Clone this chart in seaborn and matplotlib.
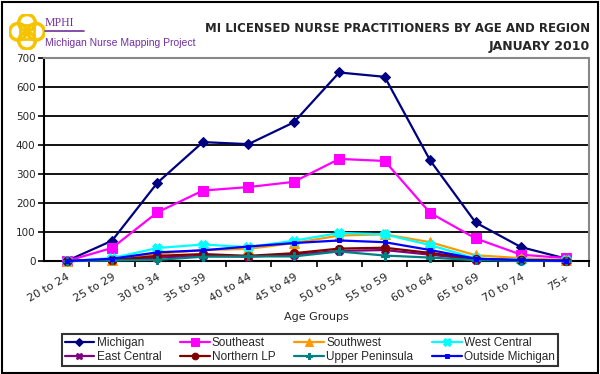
import numpy as np
import pandas as pd
import seaborn as sns
import matplotlib.pyplot as plt
from matplotlib.patches import Rectangle, Circle

age_groups = ['20 to 24', '25 to 29', '30 to 34', '35 to 39', '40 to 44', '45 to 49',
              '50 to 54', '55 to 59', '60 to 64', '65 to 69', '70 to 74', '75+']

michigan = [0, 70, 270, 410, 403, 478, 650, 635, 347, 133, 48, 8]
southeast = [0, 45, 168, 243, 255, 273, 352, 345, 166, 78, 22, 10]
southwest = [0, 5, 25, 38, 42, 62, 88, 92, 65, 20, 10, 3]
west_central = [0, 10, 45, 57, 48, 70, 97, 92, 55, 9, 5, 2]
east_central = [0, 3, 12, 18, 15, 22, 35, 38, 22, 5, 2, 1]
northern_lp = [0, 3, 18, 24, 18, 27, 43, 46, 28, 8, 3, 1]
upper_peninsula = [0, 2, 4, 15, 16, 16, 33, 19, 12, 3, 1, 0]
outside_michigan = [0, 8, 30, 37, 50, 62, 71, 65, 38, 8, 3, 1]

series = {
    'Michigan': michigan,
    'Southeast': southeast,
    'Southwest': southwest,
    'West Central': west_central,
    'East Central': east_central,
    'Northern LP': northern_lp,
    'Upper Peninsula': upper_peninsula,
    'Outside Michigan': outside_michigan,
}
colors = {
    'Michigan': '#000080', 'Southeast': '#FF00FF', 'Southwest': '#FF9900',
    'West Central': '#00FFFF', 'East Central': '#800080', 'Northern LP': '#800000',
    'Upper Peninsula': '#008080', 'Outside Michigan': '#0000FF',
}
markers = {
    'Michigan': 'D', 'Southeast': 's', 'Southwest': '^', 'West Central': 'X',
    'East Central': 'X', 'Northern LP': 'o', 'Upper Peninsula': 'P',
    'Outside Michigan': 's',
}
msizes = {'Michigan': 5, 'Southeast': 7, 'Southwest': 7, 'West Central': 7,
          'East Central': 6, 'Northern LP': 6, 'Upper Peninsula': 6,
          'Outside Michigan': 3.5}

rows = []
for name, vals in series.items():
    for i, v in enumerate(vals):
        rows.append({'pos': i, 'Region': name, 'Count': v})
df = pd.DataFrame(rows)

sns.set_style('white')
fig = plt.figure(figsize=(6, 3.74), dpi=100)
ax = fig.add_axes([0.073, 0.302, 0.909, 0.543])

for name in series:
    sub = df[df['Region'] == name]
    sns.lineplot(data=sub, x='pos', y='Count', ax=ax, color=colors[name],
                 marker=markers[name], markersize=msizes[name], linewidth=1.6,
                 markeredgecolor=colors[name], label=name, clip_on=False, zorder=3)

ax.set_xlim(-0.5, 11.5)
ax.set_ylim(0, 700)
ax.set_yticks(range(0, 701, 100))
ax.set_xticks(range(len(age_groups)))
ax.set_xticklabels(age_groups, rotation=30, ha='right', rotation_mode='anchor', fontsize=8)
ax.set_xticks(np.arange(0.5, 11.6, 1), minor=True)
ax.tick_params(axis='y', labelsize=7.5, length=4, width=1.2, color='black',
               direction='out', left=True, pad=2)
ax.tick_params(axis='x', which='major', length=0, pad=8)
ax.tick_params(axis='x', which='minor', length=4, width=1.2, color='black',
               direction='out', bottom=True)
ax.set_axisbelow(True)
ax.yaxis.grid(True, color='black', lw=1.3)
ax.xaxis.grid(False)
ax.get_ygridlines()[-1].set_color('#888888')
ax.set_xlabel('Age Groups', fontsize=8, labelpad=6)
ax.set_ylabel('')
for s in ['left', 'bottom']:
    ax.spines[s].set_color('black')
    ax.spines[s].set_linewidth(1.5)
for s in ['top', 'right']:
    ax.spines[s].set_color('#888888')
    ax.spines[s].set_linewidth(1.5)

handles, labels = ax.get_legend_handles_labels()
order = ['Michigan', 'East Central', 'Southeast', 'Northern LP', 'Southwest',
         'Upper Peninsula', 'West Central', 'Outside Michigan']
hmap = dict(zip(labels, handles))
ax.legend([hmap[k] for k in order], order, ncol=4, loc='upper left',
          bbox_to_anchor=(0.022, -0.33), frameon=True, fancybox=False,
          edgecolor='black', prop={'family': 'Liberation Sans', 'size': 8.5},
          handlelength=2.5, handletextpad=0.2, columnspacing=1.6, labelspacing=0.15,
          borderpad=0.25, markerscale=0.8)
ax.get_legend().get_frame().set_linewidth(1.5)

# title
fig.text(0.983, 0.925, 'MI LICENSED NURSE PRACTITIONERS BY AGE AND REGION',
         ha='right', va='center', fontsize=8.5, fontweight='bold', family='DejaVu Sans')
fig.text(0.983, 0.875, 'JANUARY 2010', ha='right', va='center', fontsize=9,
         fontweight='bold', family='DejaVu Sans')

# logo
logo = fig.add_axes([0.015, 0.865, 0.06, 0.1])
logo.set_xlim(0, 1)
logo.set_ylim(0, 1)
logo.set_aspect('equal')
logo.axis('off')
for cx, cy in [(0.5, 0.75), (0.5, 0.25), (0.25, 0.5), (0.75, 0.5)]:
    logo.add_patch(Circle((cx, cy), 0.23, fill=False, ec='#F5C400', lw=2.5))
logo.add_patch(Rectangle((0.3, 0.3), 0.4, 0.4, fill=False, ec='#F5C400', lw=2))
fig.text(0.075, 0.93, 'MPHI', color='#7030A0', fontsize=8.5, family='Liberation Serif')
fig.add_artist(plt.Line2D([0.075, 0.14], [0.917, 0.917], color='#7030A0', lw=1.2))
fig.text(0.075, 0.877, 'Michigan Nurse Mapping Project', color='#7030A0', fontsize=7.5,
         family='Liberation Sans')

# outer border
fig.add_artist(Rectangle((0.003, 0.004), 0.994, 0.99, transform=fig.transFigure,
                         fill=False, ec='black', lw=1.5))

fig.savefig('out.png', dpi=100)
